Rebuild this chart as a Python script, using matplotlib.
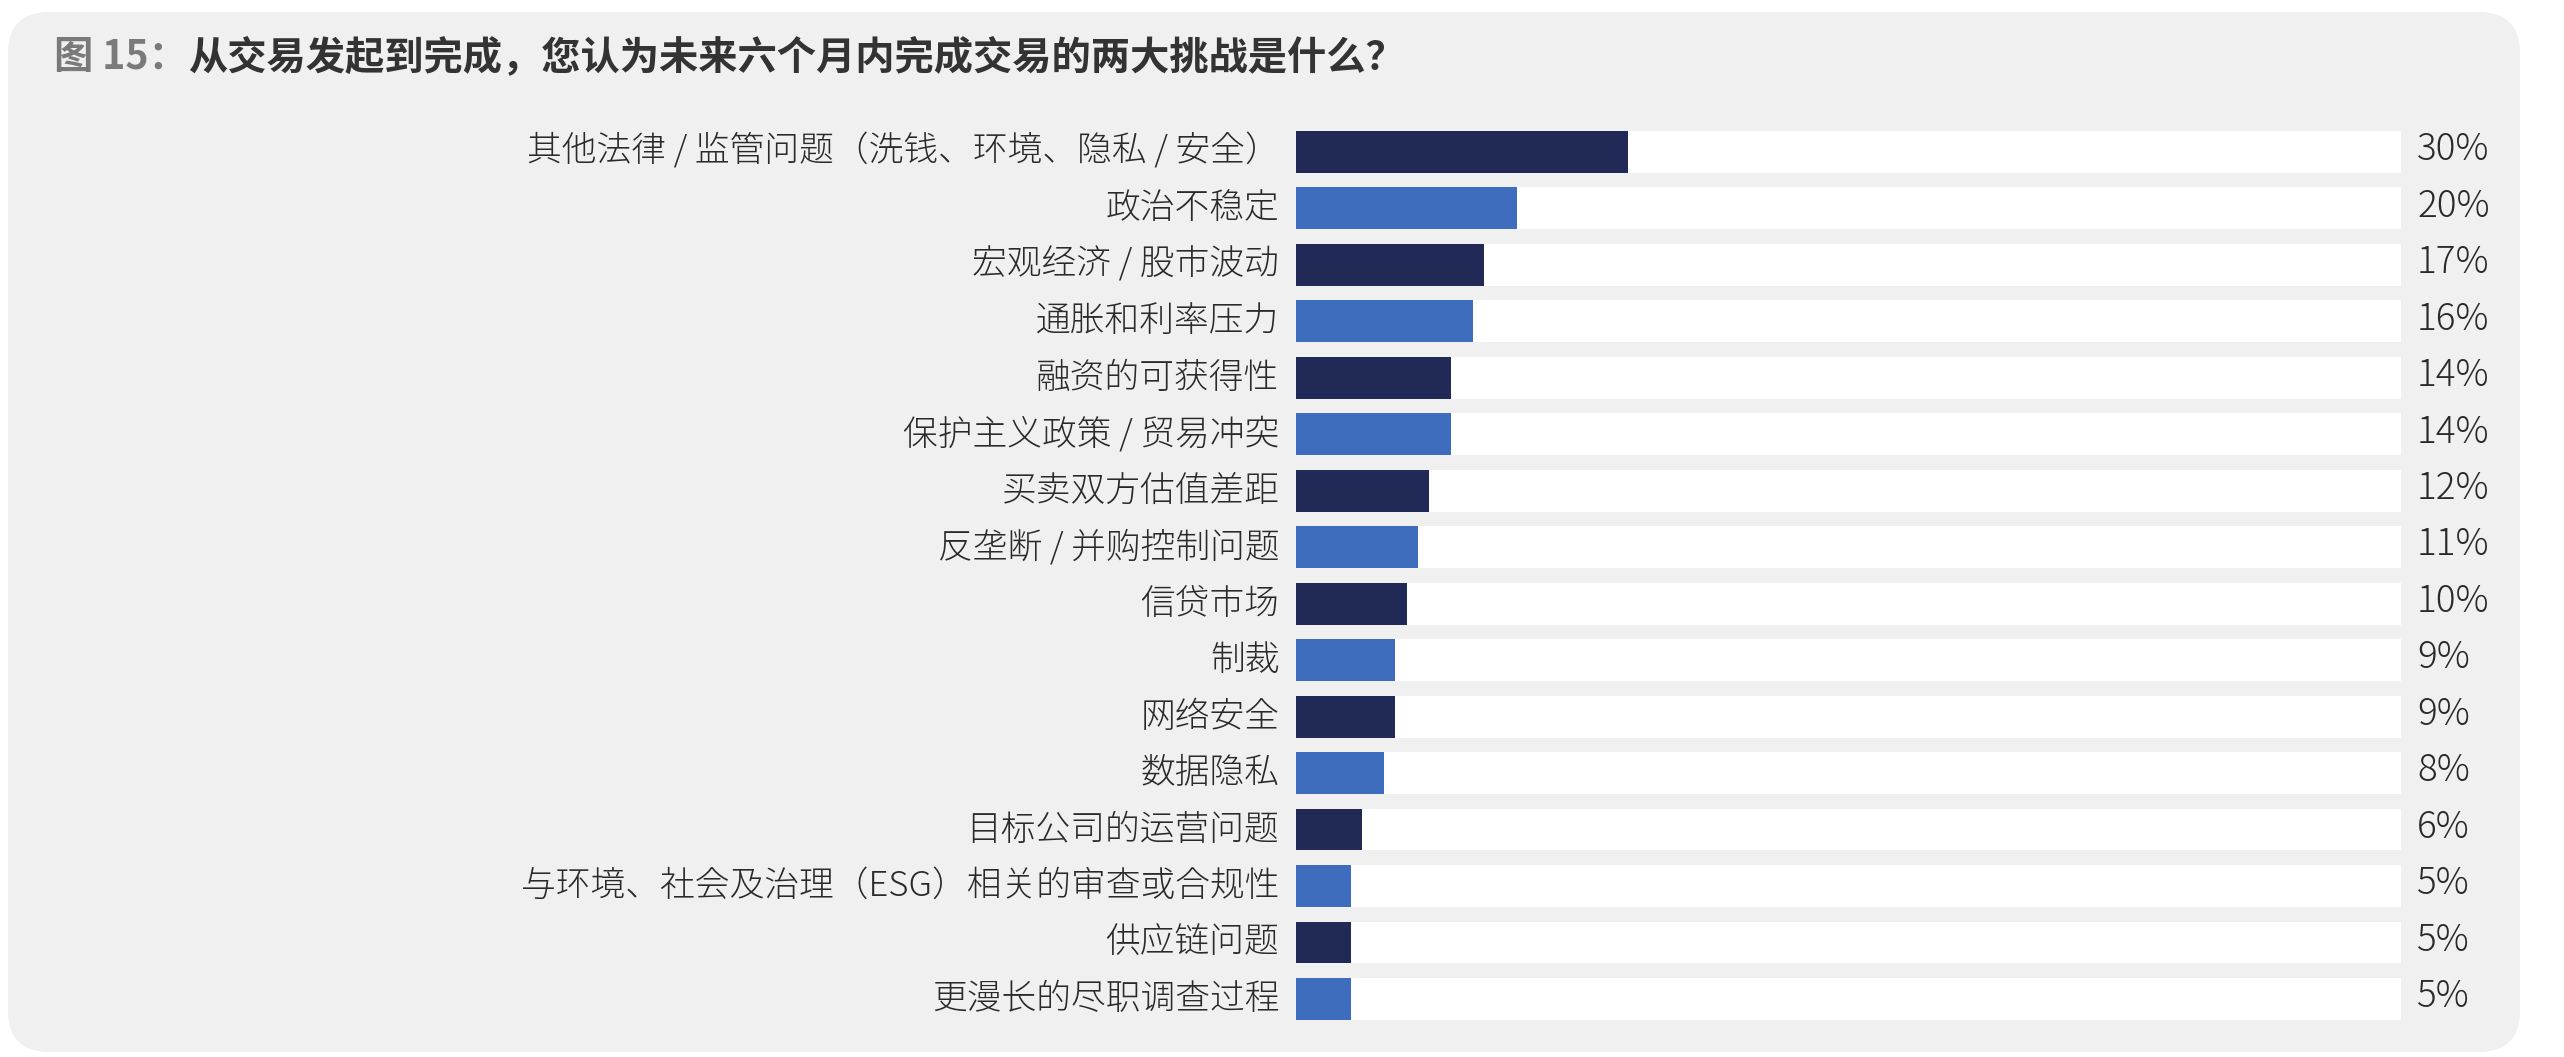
import matplotlib
matplotlib.use("Agg")
import matplotlib.pyplot as plt
from matplotlib.patches import FancyBboxPatch
from matplotlib.transforms import ScaledTranslation

plt.rcParams['font.family'] = ['Noto Sans CJK SC', 'DejaVu Sans']
LIGHT = ['Noto Sans CJK JP', 'Noto Sans CJK SC', 'DejaVu Sans']

categories = [
    "其他法律 / 监管问题（洗钱、环境、隐私 / 安全）",
    "政治不稳定",
    "宏观经济 / 股市波动",
    "通胀和利率压力",
    "融资的可获得性",
    "保护主义政策 / 贸易冲突",
    "买卖双方估值差距",
    "反垄断 / 并购控制问题",
    "信贷市场",
    "制裁",
    "网络安全",
    "数据隐私",
    "目标公司的运营问题",
    "与环境、社会及治理（ESG）相关的审查或合规性",
    "供应链问题",
    "更漫长的尽职调查过程",
]
values = [30, 20, 17, 16, 14, 14, 12, 11, 10, 9, 9, 8, 6, 5, 5, 5]
value_labels = [f"{v}%" for v in values]
title_prefix = "图 15："
title_text = "从交易发起到完成，您认为未来六个月内完成交易的两大挑战是什么？"

DARK = "#212a57"
BLUE = "#3f6dbd"
PANEL = "#f0f0f0"
TEXT = "#2a2a2a"

W, H = 2564, 1057
fig = plt.figure(figsize=(W / 100, H / 100), dpi=100)
fig.patch.set_facecolor("white")

# panel background
px0, py0, px1, py1 = 8, 12, 2520, 1052
panel = FancyBboxPatch((px0 / W, 1 - py1 / H), (px1 - px0) / W, (py1 - py0) / H,
                       boxstyle="round,pad=0,rounding_size=0.016",
                       transform=fig.transFigure, facecolor=PANEL, edgecolor="none",
                       mutation_aspect=W / H, zorder=-10)
fig.patches.append(panel)

# axes geometry in pixels
ax_left, ax_right = 1296, 2401
top_c, bot_c = 151.9, 999.0
n = len(values)
pitch = (bot_c - top_c) / (n - 1)
ax_top = top_c - pitch / 2
ax_bot = bot_c + pitch / 2
ax = fig.add_axes([ax_left / W, 1 - ax_bot / H, (ax_right - ax_left) / W, (ax_bot - ax_top) / H])
ax.set_zorder(1)
ax.set_facecolor("none")
ax.set_xlim(0, 100)
ax.set_ylim(n - 0.5, -0.5)

ys = list(range(n))
colors = [DARK if i % 2 == 0 else BLUE for i in range(n)]
ax.barh(ys, [100] * n, height=0.74, color="white", zorder=1)
ax.barh(ys, values, height=0.74, color=colors, zorder=2)

up_pct = ScaledTranslation(0, 2 / 100, fig.dpi_scale_trans)
for y, lab in zip(ys, value_labels):
    ax.text(101.45, y, lab, va="center", ha="left", fontsize=26.5,
            color=TEXT, family=LIGHT, fontweight=300,
            transform=ax.transData + up_pct)

ax.set_yticks(ys)
ax.set_yticklabels(categories, fontsize=25.0, color=TEXT, family=LIGHT, fontweight=300)
ax.tick_params(axis="y", length=0, pad=12)
ax.set_xticks([])
for s in ax.spines.values():
    s.set_visible(False)
up_lab = ScaledTranslation(0, 4 / 100, fig.dpi_scale_trans)
for lab in ax.get_yticklabels():
    lab.set_transform(lab.get_transform() + up_lab)

# title
t1 = fig.text(54 / W, 1 - 58 / H, title_prefix, fontsize=28.3, fontweight="bold",
              color="#7a7a7a", va="center", ha="left", zorder=2)
fig.canvas.draw()
bb = t1.get_window_extent()
fig.text(bb.x1 / W, 1 - 58 / H, title_text, fontsize=28.3, fontweight="bold",
         color="#333333", va="center", ha="left", zorder=2)

fig.savefig("out.png", dpi=100, facecolor="white")
